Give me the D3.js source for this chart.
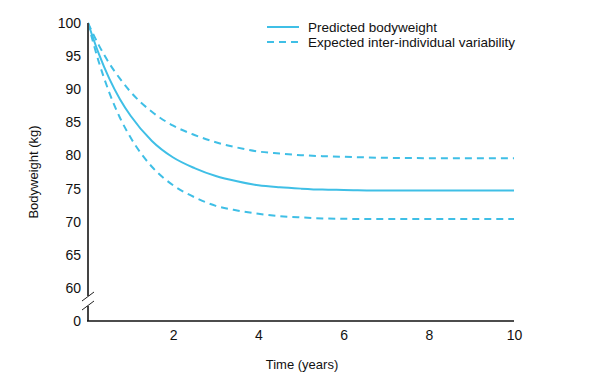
<!DOCTYPE html>
<meta charset="utf-8">
<style>
body { margin: 0; background: #fff; }
svg { font-family: "Liberation Sans", Arial, sans-serif; }
.tick text { font-size: 14px; fill: #111; }
.lab { font-size: 13px; fill: #111; }
.legend text { font-size: 13.5px; fill: #111; }
</style>
<svg width="591" height="388"></svg>
<script src="https://d3js.org/d3.v7.min.js"></script>
<script>

var years = [0, 0.25, 0.5, 0.75, 1, 1.5, 2, 2.5, 3, 3.5, 4, 4.5, 5, 5.5, 6, 7, 8, 10];
var predicted = [100, 95.4, 91.6, 88.5, 86.0, 82.2, 79.7, 78.1, 76.9, 76.1, 75.5, 75.2, 75.0, 74.85, 74.8, 74.7, 74.7, 74.7];
var upper = [100, 96.7, 93.9, 91.6, 89.6, 86.6, 84.5, 83.1, 82.0, 81.2, 80.6, 80.3, 80.05, 79.9, 79.8, 79.65, 79.6, 79.6];
var lower = [100, 94.2, 89.5, 85.7, 82.7, 78.3, 75.5, 73.7, 72.4, 71.7, 71.2, 70.85, 70.65, 70.5, 70.45, 70.4, 70.4, 70.4];
var xTicks = [2, 4, 6, 8, 10];
var yTicks = [0, 60, 65, 70, 75, 80, 85, 90, 95, 100];
var legendLabels = ["Predicted bodyweight", "Expected inter-individual variability"];

var blue = "#3fbfe6";
var svg = d3.select("svg");

var x = d3.scaleLinear().domain([0, 10]).range([88, 514]);
// broken axis: 0 sits just below 60
var y = d3.scaleLinear().domain([0, 60, 100]).range([321, 288, 23]);

var line = d3.line()
    .x(function(d) { return x(d[0]); })
    .y(function(d) { return y(d[1]); })
    .curve(d3.curveMonotoneX);

function pts(vals) { return years.map(function(t, i) { return [t, vals[i]]; }); }

svg.append("path").datum(pts(upper))
    .attr("fill", "none").attr("stroke", blue).attr("stroke-width", 2)
    .attr("stroke-dasharray", "7,5").attr("d", line);
svg.append("path").datum(pts(lower))
    .attr("fill", "none").attr("stroke", blue).attr("stroke-width", 2)
    .attr("stroke-dasharray", "7,5").attr("d", line);
svg.append("path").datum(pts(predicted))
    .attr("fill", "none").attr("stroke", blue).attr("stroke-width", 2)
    .attr("d", line);

// axes
svg.append("g")
    .attr("transform", "translate(88,0)")
    .call(d3.axisLeft(y).tickValues(yTicks).tickSize(0).tickPadding(7))
    .call(function(g) { g.select(".domain").remove(); g.selectAll("text").attr("font-family", null); });

svg.append("g")
    .attr("transform", "translate(0,321)")
    .call(d3.axisBottom(x).tickValues(xTicks).tickSize(0).tickPadding(9))
    .call(function(g) { g.select(".domain").remove(); g.selectAll("text").attr("font-family", null); });

svg.append("line").attr("x1", 88).attr("x2", 88).attr("y1", y(100)).attr("y2", 296)
    .attr("stroke", "#444").attr("stroke-width", 2);
svg.append("line").attr("x1", 88).attr("x2", 88).attr("y1", 306).attr("y2", 321)
    .attr("stroke", "#444").attr("stroke-width", 2);
svg.append("line").attr("x1", 87).attr("x2", x(10)).attr("y1", 321).attr("y2", 321)
    .attr("stroke", "#111").attr("stroke-width", 1.5);

// break marks
[[82, 301, 94, 292], [82, 310, 94, 301]].forEach(function(s) {
  svg.append("line").attr("x1", s[0]).attr("y1", s[1]).attr("x2", s[2]).attr("y2", s[3])
      .attr("stroke", "#222").attr("stroke-width", 1);
});

svg.append("text").attr("class", "lab")
    .attr("x", 302).attr("y", 369).attr("text-anchor", "middle")
    .text("Time (years)");
svg.append("text").attr("class", "lab")
    .attr("transform", "translate(38,172) rotate(-90)")
    .attr("text-anchor", "middle")
    .text("Bodyweight (kg)");

var legend = svg.append("g").attr("class", "legend");
legendLabels.forEach(function(l, i) {
  var ly = 27 + i * 15;
  legend.append("line").attr("x1", 267).attr("x2", 299).attr("y1", ly).attr("y2", ly)
      .attr("stroke", blue).attr("stroke-width", 2)
      .attr("stroke-dasharray", i ? "7,5" : null);
  legend.append("text").attr("x", 308).attr("y", ly).attr("dy", "0.35em").text(l);
});

</script>
